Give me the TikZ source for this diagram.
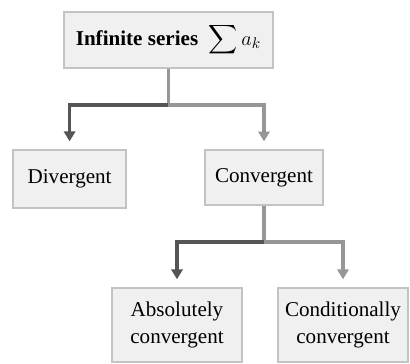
\documentclass[tikz,border=0pt]{standalone}
\usepackage{amsmath}
\usepackage{fontspec}
\setmainfont{Liberation Serif}
\usetikzlibrary{positioning}
\usetikzlibrary{arrows.meta}
\definecolor{boxfill}{RGB}{240,240,240}
\definecolor{boxline}{RGB}{195,195,195}
\definecolor{linkdark}{RGB}{85,85,85}
\definecolor{linklight}{RGB}{150,150,150}

\begin{document}
\begin{tikzpicture}[
  block/.style={draw=boxline,fill=boxfill,line width=1pt,inner sep=0pt,align=center,font=\fontsize{15}{19}\selectfont},
  link/.style={line width=2.2pt,shorten >=0.2cm,-{Triangle[length=7pt,width=8pt]}}]
\useasboundingbox (0,0) rectangle (10.25,9.1);
% boxes
\node[block,minimum width=5.225cm,minimum height=1.4cm] (series) at (4.21,8.1) {\textbf{Infinite series}\ \ $\displaystyle\sum\nolimits a_k$};
\node[block,minimum width=2.825cm,minimum height=1.45cm] (div) at (1.74,4.625) {Divergent};
\node[block,minimum width=2.95cm,minimum height=1.375cm] (conv) at (6.6,4.66) {Convergent};
\node[block,minimum width=3.25cm,minimum height=1.85cm] (abs) at (4.425,0.975) {Absolutely\\convergent};
\node[block,minimum width=3.25cm,minimum height=1.85cm] (cond) at (8.575,0.975) {Conditionally\\convergent};
% connectors
\coordinate (j1) at (4.21,6.475);
\coordinate (j2) at (6.6,3.05);
\draw[linklight,line width=2.2pt] (series.south) -- (j1);
\draw[link,linkdark] (j1) -| (div.north);
\draw[link,linklight] (j1) -| (conv.north);
\draw[linklight,line width=2.2pt] (conv.south) -- (j2);
\draw[link,linkdark] (j2) -| (abs.north);
\draw[link,linklight] (j2) -| (cond.north);
\end{tikzpicture}
\end{document}
